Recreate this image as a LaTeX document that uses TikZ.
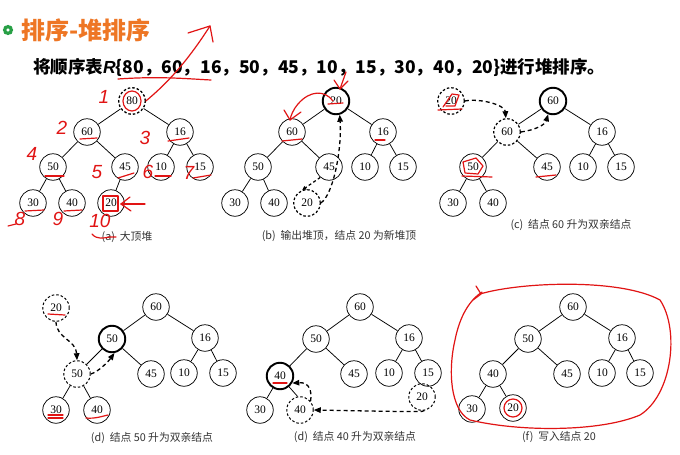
\documentclass[tikz,border=0pt]{standalone}
\usepackage{fontspec}
\setmainfont{Liberation Serif}
\newfontfamily\cjk{Noto Sans CJK SC}
\newfontfamily\lsans{Liberation Sans}
\usetikzlibrary{arrows.meta,calc}
\definecolor{ttl}{RGB}{238,118,36}
\definecolor{ink}{RGB}{225,20,20}
\definecolor{grn}{RGB}{40,160,70}
\tikzset{
  nd/.style={circle, draw, line width=0.75pt, minimum size=26.5pt, inner sep=0pt, font=\fontsize{11.5}{11.5}\selectfont},
  thk/.style={nd, line width=1.9pt},
  dsh/.style={nd, dashed, dash pattern=on 2.5pt off 2pt},
  ed/.style={line width=0.75pt},
  da/.style={line width=1.3pt, dash pattern=on 4pt off 3pt, -{Triangle[length=7pt,width=5.5pt]}},
  captxt/.style={font=\cjk\fontsize{10.8}{11}\selectfont, text=black!80},
  rd/.style={draw=ink, line width=1.2pt, line cap=round, line join=round},
  rnum/.style={text=ink, font=\lsans\itshape\fontsize{19}{19}\selectfont, inner sep=0pt}
}
\begin{document}
\begin{tikzpicture}[x=1pt,y=-1pt]
\useasboundingbox (0,0) rectangle (680,455);
\fill[white] (0,0) rectangle (680,455);

% header
\node[inner sep=0pt] (flower) at (8,30) {};
\foreach \a in {0,45,...,315}
  \fill[grn] (flower) ++(\a:3.2) circle (2pt);
\fill[white] (flower) circle (1.6pt);
\node[anchor=west, inner sep=0pt, text=ttl, font=\cjk\bfseries\fontsize{24}{25}\selectfont] (title) at (21,30) {排序-堆排序};
\node[anchor=west, inner sep=0pt, font=\cjk\bfseries\fontsize{17.5}{18}\selectfont] (stmt) at (33,67) {将顺序表{\lsans\bfseries\itshape R}\{80，60，16，50，45，10，15，30，40，20\}进行堆排序。};

% ---------- (a)
\node[dsh, line width=1.3pt] (a80) at (132,101) {80};
\node[nd] (a60) at (87,132) {60};
\node[nd] (a16) at (180,132) {16};
\node[nd] (a50) at (53,167) {50};
\node[nd] (a45) at (125,167) {45};
\node[nd] (a10) at (161,167) {10};
\node[nd] (a15) at (200,167) {15};
\node[nd] (a30) at (33,203) {30};
\node[nd] (a40) at (72,203) {40};
\node[nd] (a20) at (111,203) {20};
\foreach \p/\c in {a80/a60,a80/a16,a60/a50,a60/a45,a16/a10,a16/a15,a50/a30,a50/a40,a45/a20}
  \draw[ed] (\p) -- (\c);
\node[captxt] (capa) at (127,237) {(a)\ \ 大顶堆};

% ---------- (b)
\node[thk] (b20) at (336,101) {20};
\node[nd] (b60) at (292,132) {60};
\node[nd] (b16) at (383,132) {16};
\node[nd] (b50) at (258,167) {50};
\node[nd] (b45) at (329,167) {45};
\node[nd] (b10) at (365,167) {10};
\node[nd] (b15) at (403,167) {15};
\node[nd] (b30) at (235,203) {30};
\node[nd] (b40) at (274,203) {40};
\node[dsh, line width=1.2pt] (b20d) at (307,203) {20};
\foreach \p/\c in {b20/b60,b20/b16,b60/b50,b60/b45,b16/b10,b16/b15,b50/b30,b50/b40}
  \draw[ed] (\p) -- (\c);
\draw[line width=1.2pt, dash pattern=on 3pt off 2.5pt, -{Triangle[length=4pt,width=4pt]}] (b45.-130) -- (b20d.110);
\draw[da] (b20d.east) .. controls (333,195) and (342,150) .. (b20.-75);
\node[captxt] (capb) at (339,236) {(b)\ \ 输出堆顶，结点 20 为新堆顶};

% ---------- (c)
\node[dsh, line width=1.2pt] (c20d) at (451,101) {20};
\node[thk] (c60) at (553,101) {60};
\node[dsh, line width=1.2pt] (c60d) at (507,132) {60};
\node[nd] (c16) at (602,132) {16};
\node[nd] (c50) at (473,167) {50};
\node[nd] (c45) at (547,167) {45};
\node[nd] (c10) at (583,167) {10};
\node[nd] (c15) at (621,167) {15};
\node[nd] (c30) at (453,203) {30};
\node[nd] (c40) at (493,203) {40};
\foreach \p/\c in {c60/c60d,c60/c16,c60d/c50,c60d/c45,c16/c10,c16/c15,c50/c30,c50/c40}
  \draw[ed] (\p) -- (\c);
\draw[da] (c20d.east) .. controls (480,98) and (505,105) .. (c60d.95);
\draw[da] (c60d.east) .. controls (535,130) and (545,125) .. (c60.-110);
\node[captxt] (capc) at (571,225) {(c)\ \ 结点 60 升为双亲结点};

% ---------- (d) 50
\node[dsh, line width=1pt] (d20d) at (56,308) {20};
\node[nd] (d60) at (156,307) {60};
\node[thk] (d50) at (112,339) {50};
\node[nd] (d16) at (205,338) {16};
\node[dsh, line width=1pt] (d50d) at (77,374) {50};
\node[nd] (d45) at (151,374) {45};
\node[nd] (d10) at (184,373) {10};
\node[nd] (d15) at (223,373) {15};
\node[nd] (d30) at (56,410) {30};
\node[nd] (d40) at (97,410) {40};
\foreach \p/\c in {d60/d50,d60/d16,d50/d50d,d50/d45,d16/d10,d16/d15,d50d/d30,d50d/d40}
  \draw[ed] (\p) -- (\c);
\draw[da] (d20d.south) .. controls (56,338) and (76,340) .. (d50d.north);
\draw[da] (d50d.east) .. controls (98,372) and (108,362) .. (d50.-80);
\node[captxt] (capd) at (152,438) {(d)\ \ 结点 50 升为双亲结点};

% ---------- (d) 40
\node[nd] (e60) at (360,307) {60};
\node[nd] (e50) at (316,339) {50};
\node[nd] (e16) at (409,338) {16};
\node[thk] (e40) at (280,376) {40};
\node[nd] (e45) at (354,374) {45};
\node[nd] (e10) at (389,373) {10};
\node[nd] (e15) at (428,373) {15};
\node[nd] (e30) at (260,410) {30};
\node[dsh, line width=1pt] (e40d) at (300,410) {40};
\node[dsh, line width=1pt] (e20d) at (422,397) {20};
\foreach \p/\c in {e60/e50,e60/e16,e50/e40,e50/e45,e16/e10,e16/e15,e40/e30}
  \draw[ed] (\p) -- (\c);
\draw[ed] (e40d.100) -- (e40.-50);
\draw[da] (e20d.-80) .. controls (423,412) .. (e40d.east);
\draw[da] (e40d.40) .. controls (312,392) and (310,382) .. (e40.-30);
\node[captxt] (cape) at (355,437) {(d)\ \ 结点 40 升为双亲结点};

% ---------- (f)
\node[nd] (f60) at (573,307) {60};
\node[nd] (f50) at (528,339) {50};
\node[nd] (f16) at (622,338) {16};
\node[nd] (f40) at (493,374) {40};
\node[nd] (f45) at (567,374) {45};
\node[nd] (f10) at (602,373) {10};
\node[nd] (f15) at (640,373) {15};
\node[nd] (f30) at (472,409) {30};
\node[nd] (f20) at (513,408) {20};
\foreach \p/\c in {f60/f50,f60/f16,f50/f40,f50/f45,f16/f10,f16/f15,f40/f30,f40/f20}
  \draw[ed] (\p) -- (\c);
\node[captxt] (capf) at (559,437) {(f)\ \ 写入结点 20};

% ---------- red hand annotations
% header arrow and underline
\draw[rd] (a80.east) .. controls (165,85) and (185,65) .. (210,26);
\draw[rd] (188,33) -- (210,26) -- (213,42);
\draw[rd] (118,79) .. controls (160,76) and (190,79) .. (211,80);
% (a)
\draw[rd] (a80) ellipse (9pt and 10pt);
\node[rnum] (n1) at (104,97) {1};
\node[rnum] (n2) at (62,128) {2};
\node[rnum] (n3) at (145,138) {3};
\node[rnum] (n4) at (32,154) {4};
\node[rnum] (n5) at (97,172) {5};
\node[rnum] (n6) at (148,172) {6};
\node[rnum] (n7) at (189,173) {7};
\node[rnum] (n8) at (20,219) {8};
\node[rnum] (n9) at (58,219) {9};
\node[rnum] (n10) at (100,221) {10};
\draw[rd] (8,226) -- (16,224);
\draw[rd] (92,234) .. controls (97,240) and (104,238) .. (110,237) -- (116,237);
\draw[rd] (80,139) -- (97,138);
\draw[rd] (168,141) -- (189,138);
\draw[rd] (45,176) -- (64,176);
\draw[rd] (118,178) -- (134,173);
\draw[rd] (155,176) -- (171,176);
\draw[rd] (193,178) -- (211,175);
\draw[rd] (25,211) -- (44,210);
\draw[rd] (64,211) -- (82,210);
\draw[rd] (103,196) rectangle (118,211);
\draw[rd] (145,204) -- (121,204);
\draw[rd] (130,197) -- (121,204) -- (131,211);
% (b)
\draw[rd] (346,72) -- (340,89);
\draw[rd] (334,80) -- (340,89) -- (348,81);
\draw[rd] (333,101) .. controls (325,90) and (310,90) .. (298,104) .. controls (293,110) and (291,115) .. (290,120);
\draw[rd] (284,110) -- (290,120) -- (301,112);
\draw[rd] (328,104) -- (343,103);
\draw[rd] (282,141) -- (302,139);
\draw[rd] (375,140) -- (385,140);
% (c)
\draw[rd] (443,107) -- (452,94) -- (459,95) -- (455,106) -- (446,106);
\draw[rd] (438,110) -- (462,109);
\draw[rd] (463,162) -- (476,158) -- (483,166) -- (478,174) -- (465,173) -- cycle;
\draw[rd] (462,176) -- (492,177);
\draw[rd] (536,177) -- (556,175);
% (d)
\draw[rd] (48,314) -- (65,315);
\draw[rd] (48,415) -- (63,415);
\draw[rd] (48,418) -- (63,418);
\draw[rd] (86,418) .. controls (95,419) and (103,416) .. (108,415);
\draw[rd] (273,383) -- (287,383);
% (f)
\draw[rd] (f20) circle (9pt);
\draw[rd] (480,294) .. controls (520,282) and (620,278) .. (660,300) .. controls (680,330) and (672,395) .. (640,415) .. controls (600,432) and (520,432) .. (470,420) .. controls (450,410) and (448,370) .. (455,340) .. controls (460,315) and (470,300) .. (482,292);
\draw[rd] (476,286) -- (481,294) -- (473,300);
\end{tikzpicture}
\end{document}
